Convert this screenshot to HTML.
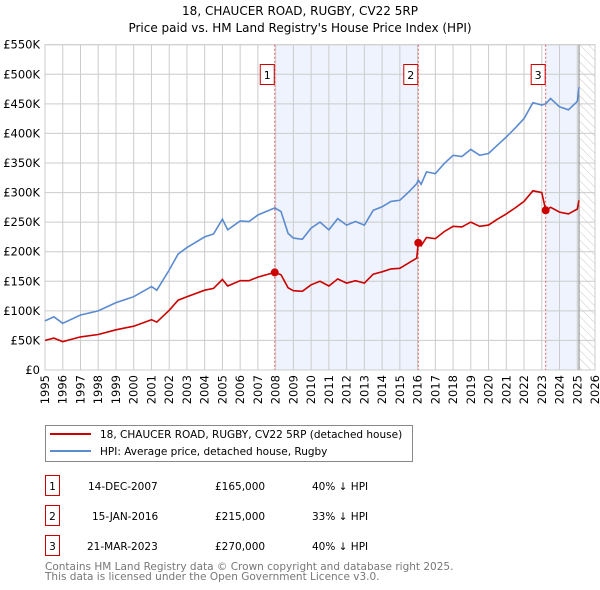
<!DOCTYPE html>
<html><head><meta charset="utf-8"><style>
body{margin:0;background:#fff;}
svg{display:block;font-family:"DejaVu Sans","Liberation Sans",sans-serif;}
</style></head><body>
<svg id="chart" width="600" height="590" viewBox="0 0 600 590">
<defs><pattern id="hatch" width="6" height="6" patternUnits="userSpaceOnUse" patternTransform="rotate(-45)"><line x1="0" y1="0" x2="0" y2="6" stroke="#bbb" stroke-width="0.8"/></pattern></defs>
<text x="300" y="15" text-anchor="middle" font-size="12">18, CHAUCER ROAD, RUGBY, CV22 5RP</text>
<text x="300" y="32" text-anchor="middle" font-size="12">Price paid vs. HM Land Registry's House Price Index (HPI)</text>
<g id="plot"></g>
<g>
<rect x="45.5" y="425.5" width="367" height="36" fill="#fff" stroke="#888"/>
<line x1="50" y1="434" x2="91" y2="434" stroke="#cc0000" stroke-width="2"/>
<text x="100" y="438" font-size="10.5">18, CHAUCER ROAD, RUGBY, CV22 5RP (detached house)</text>
<line x1="50" y1="451" x2="91" y2="451" stroke="#5b8bd0" stroke-width="2"/>
<text x="100" y="455" font-size="10.5">HPI: Average price, detached house, Rugby</text>
</g>
<g font-size="10.5">
<rect x="45.5" y="475.5" width="14" height="20" fill="none" stroke="#cc0000"/><text x="52.5" y="490" text-anchor="middle">1</text>
<text x="88" y="490">14-DEC-2007</text><text x="215" y="490">£165,000</text><text x="312" y="490">40% ↓ HPI</text>
<rect x="45.5" y="505.5" width="14" height="20" fill="none" stroke="#cc0000"/><text x="52.5" y="520" text-anchor="middle">2</text>
<text x="92" y="520">15-JAN-2016</text><text x="215" y="520">£215,000</text><text x="312" y="520">33% ↓ HPI</text>
<rect x="45.5" y="535.5" width="14" height="20" fill="none" stroke="#cc0000"/><text x="52.5" y="550" text-anchor="middle">3</text>
<text x="87" y="550">21-MAR-2023</text><text x="215" y="550">£270,000</text><text x="312" y="550">40% ↓ HPI</text>
</g>
<text x="45" y="570" font-size="10.5" fill="#777">Contains HM Land Registry data © Crown copyright and database right 2025.</text>
<text x="45" y="580" font-size="10.5" fill="#777">This data is licensed under the Open Government Licence v3.0.</text>
</svg>
<script>
const years=[1995.0,1995.5,1996.0,1997.0,1998.0,1999.0,2000.0,2001.0,2001.3,2002.0,2002.5,2003.0,2004.0,2004.5,2005.0,2005.3,2006.0,2006.5,2007.0,2007.95,2008.3,2008.7,2009.0,2009.5,2010.0,2010.5,2011.0,2011.5,2012.0,2012.5,2013.0,2013.5,2014.0,2014.5,2015.0,2015.5,2015.95,2016.04,2016.2,2016.5,2017.0,2017.5,2018.0,2018.5,2019.0,2019.5,2020.0,2020.5,2021.0,2021.5,2022.0,2022.5,2023.0,2023.22,2023.5,2024.0,2024.5,2025.0,2025.1];
const hpiValues=[83,90,79,93,100,114,124,141,135,169,196,207,225,230,255,237,252,251,262,274,268,231,223,221,240,250,237,256,245,251,245,270,276,285,287,301,315,321,314,335,332,349,363,361,373,363,366,380,394,409,425,452,448,450,459,445,440,454,478];
const priceValues=[50,54,48,56,60,68,74,85,81,101,118,124,135,138,153,142,151,151,157,165,161,139,134,133,144,150,142,154,147,151,147,162,166,171,172,181,189,215,210,224,222,234,243,242,250,243,245,255,264,274,285,303,300,270,275,267,264,272,287];
const saleYears=[2007.95,2016.04,2023.22];
const salePrices=[165,215,270];
const saleLabels=["1","2","3"];
const yTicks=[0,50,100,150,200,250,300,350,400,450,500,550];
const yTickLabels=["£0","£50K","£100K","£150K","£200K","£250K","£300K","£350K","£400K","£450K","£500K","£550K"];
const xTicks=[1995,1996,1997,1998,1999,2000,2001,2002,2003,2004,2005,2006,2007,2008,2009,2010,2011,2012,2013,2014,2015,2016,2017,2018,2019,2020,2021,2022,2023,2024,2025,2026];
const dataEnd=2025.1;

const NS="http://www.w3.org/2000/svg";
const L=45,R=595,T=44.7,B=370;
const X=y=>L+(y-1995)/(2026-1995)*(R-L);
const Y=v=>B-v/550*(B-T);
const g=document.getElementById('plot');
function mk(tag,attrs,parent){const e=document.createElementNS(NS,tag);for(const k in attrs)e.setAttribute(k,attrs[k]);(parent||g).appendChild(e);return e;}

let s=mk('rect',{x:X(saleYears[0]),y:T,width:X(saleYears[1])-X(saleYears[0]),height:B-T,fill:'#eef3fd'});


s=mk('rect',{x:X(saleYears[2]),y:T,width:X(dataEnd)-X(saleYears[2]),height:B-T,fill:'#eef3fd'});


s=mk('rect',{x:X(dataEnd),y:T,width:R-X(dataEnd),height:B-T,fill:'url(#hatch)'});


xTicks.forEach(t=>{
  const l=mk('line',{x1:X(t),x2:X(t),y1:T,y2:B,stroke:'#ccc','stroke-width':1});
  
  
  const tx=mk('text',{x:0,y:0,'text-anchor':'end','font-size':'11.5',transform:'translate('+(X(t)+4)+','+(B+5)+') rotate(-90)'});
  tx.textContent=t;
  
  
});
yTicks.forEach((t,i)=>{
  const l=mk('line',{x1:L,x2:R,y1:Y(t),y2:Y(t),stroke:'#ccc','stroke-width':1});
  
  
  const tx=mk('text',{x:40,y:Y(t)+4,'text-anchor':'end','font-size':'11.5'});
  tx.textContent=yTickLabels[i];
  
  
});
const fr=mk('rect',{x:L,y:T,width:R-L,height:B-T,fill:'none',stroke:'#ccc'});


const dl=mk('line',{x1:X(dataEnd),x2:X(dataEnd),y1:T,y2:B,stroke:'#888','stroke-width':1});


saleYears.forEach((sy,i)=>{
  const l=mk('line',{x1:X(sy),x2:X(sy),y1:T,y2:B,stroke:'#e06060','stroke-dasharray':'2,2','stroke-width':1});
  
  
  const r=mk('rect',{x:X(sy)-14.5,y:64.5,width:14,height:20,fill:'#fff',stroke:'#cc0000'});
  
  
  const t=mk('text',{x:X(sy)-7.5,y:79,'text-anchor':'middle','font-size':'11'});
  t.textContent=saleLabels[i];
  
  
});
function pts(vals){return years.map((y,i)=>X(y).toFixed(1)+','+Y(vals[i]).toFixed(1)).join(' ');}
const hl=mk('polyline',{points:pts(hpiValues),fill:'none',stroke:'#5b8bd0','stroke-width':1.6});


const pl=mk('polyline',{points:pts(priceValues),fill:'none',stroke:'#cc0000','stroke-width':1.6});


saleYears.forEach((sy,i)=>{
  const c=mk('circle',{cx:X(sy),cy:Y(salePrices[i]),r:4,fill:'#cc0000'});
  
  
});
</script>
</body></html>
